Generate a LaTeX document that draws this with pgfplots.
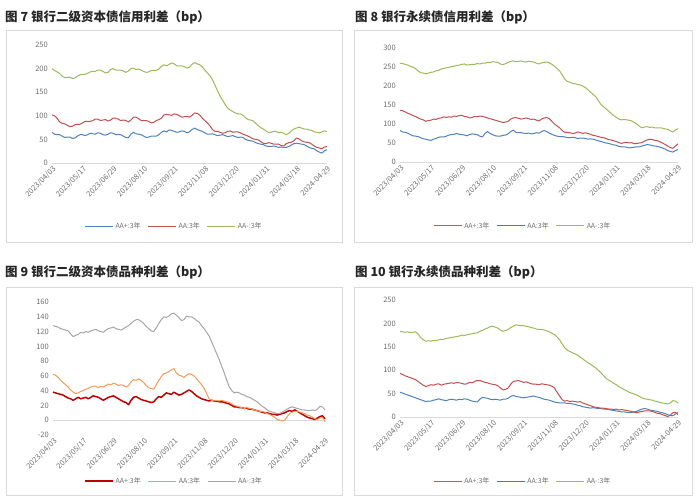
\documentclass[border=0pt]{standalone}
\usepackage{pgfplots}
\pgfplotsset{compat=1.18}
\usepackage{pgfplotstable}
\usepackage{fontspec}
\setmainfont{Noto Sans CJK SC}
\definecolor{cblue}{HTML}{4F81BD}
\definecolor{cred}{HTML}{C0504D}
\definecolor{cgreen}{HTML}{9BBB59}
\definecolor{cdred}{HTML}{C00000}
\definecolor{corange}{HTML}{F29A5C}
\definecolor{cgray}{HTML}{A5A5A5}
\definecolor{labelgray}{HTML}{6E6E6E}
\definecolor{framegray}{HTML}{D9D9D9}
\definecolor{zerogray}{HTML}{D9D9D9}

\pgfplotstableread{
x p a m
0 65 102 200
2.5 61 100 196
5 60 95 193
7.5 60 87 190
10 57 84 184
12.5 54 83 181
15 55 80 181
17.5 55 77 182
20 52 78 179
22.5 53 81 180
25 57 82 184
27.5 60 82 187
30 60 85 188
32.5 58 88 188
35 60 88 190
37.5 63 88 193
40 62 90 194
42.5 61 93 194
45 64 93 197
47.5 63 90 197
50 60 91 194
52.5 59 92 191
55 61 89 192
57.5 64 91 198
60 63 95 200
62.5 60 95 197
65 60 93 197
67.5 60 90 197
70 57 91 195
72.5 54 90 192
75 54 87 195
77.5 61 91 200
80 65 97 201
82.5 62 97 198
85 61 94 199
87.5 60 90 197
90 57 90 194
92.5 54 90 192
95 55 88 193
97.5 57 85 196
100 57 86 196
102.5 57 90 196
105 60 92 199
107.5 65 95 205
110 68 102 208
112.5 66 103 206
115 70 102 209
117.5 69 101 212
120 67 104 210
122.5 65 103 206
125 66 100 206
127.5 68 97 206
130 67 98 204
132.5 64 99 201
135 66 97 203
137.5 71 101 209
140 74 106 213
142.5 71 105 210
145 69 102 208
147.5 67 95 204
150 64 90 197
152.5 61 85 191
155 61 79 185
157.5 62 71 177
160 60 67 165
162.5 58 67 153
165 59 65 142
167.5 60 63 133
170 58 64 124
172.5 56 67 116
175 57 68 112
177.5 58 65 109
180 56 66 106
182.5 54 66 104
185 55 64 104
187.5 54 61 101
190 50 59 96
192.5 48 57 92
195 47 54 91
197.5 46 51 89
200 43 50 84
202.5 41 49 79
205 40 45 75
207.5 39 42 72
210 36 41 68
212.5 35 43 65
215 35 42 65
217.5 36 40 67
220 35 40 67
222.5 33 40 64
225 34 37 65
227.5 33 36 63
230 33 41 60
232.5 35 43 63
235 38 44 68
237.5 41 47 72
240 42 53 74
242.5 41 51 76
245 40 47 74
247.5 39 45 72
250 36 44 72
252.5 33 43 70
255 31 40 69
257.5 30 36 66
260 26 33 65
262.5 23 32 64
265 21 30 66
267.5 26 34 68
270 28 35 67
}\dataA

\pgfplotstableread{
x p a m
0 83 136 260
2.5 79 135 259
5 78 132 257
7.5 76 128 255
10 72 126 252
12.5 69 122 250
15 68 120 246
17.5 67 116 240
20 64 113 235
22.5 61 111 234
25 60 107 232
27.5 58 109 234
30 57 110 236
32.5 60 113 237
35 62 112 240
37.5 65 115 241
40 66 116 245
42.5 66 119 246
45 68 117 248
47.5 71 119 249
50 72 118 251
52.5 73 121 252
55 75 120 254
57.5 73 122 255
60 72 123 257
62.5 71 120 258
65 69 119 255
67.5 72 116 256
70 74 117 257
72.5 73 120 257
75 72 119 259
77.5 68 121 258
80 66 120 260
82.5 75 118 260
85 80 116 262
87.5 75 114 262
90 72 112 264
92.5 69 110 263
95 68 108 262
97.5 68 106 258
100 70 104 256
102.5 71 105 259
105 74 107 262
107.5 80 113 265
110 84 116 266
112.5 78 117 264
115 77 115 265
117.5 77 113 266
120 76 114 264
122.5 75 116 263
125 76 114 265
127.5 74 112 264
130 75 113 263
132.5 77 110 260
135 76 108 258
137.5 80 113 261
140 83 116 262
142.5 80 117 263
145 76 114 261
147.5 73 107 257
150 70 100 252
152.5 68 95 246
155 67 90 240
157.5 67 83 229
160 66 78 218
162.5 64 78 212
165 64 77 210
167.5 65 75 207
170 64 76 206
172.5 62 79 204
175 63 78 203
177.5 63 75 200
180 62 77 196
182.5 60 75 190
185 61 73 184
187.5 60 70 178
190 58 69 172
192.5 56 67 162
195 54 65 152
197.5 52 64 146
200 50 62 140
202.5 49 59 134
205 47 58 128
207.5 45 56 122
210 44 54 118
212.5 41 51 113
215 40 49 111
217.5 40 51 112
220 39 52 111
222.5 37 50 110
225 38 51 108
227.5 39 48 104
230 40 49 100
232.5 40 50 94
235 42 51 90
237.5 44 55 92
240 46 58 93
242.5 45 60 91
245 43 59 92
247.5 42 57 90
250 41 56 90
252.5 39 53 90
255 37 50 89
257.5 34 46 87
260 30 42 86
262.5 28 38 82
265 26 36 79
267.5 30 42 84
270 33 48 88
}\dataB

\pgfplotstableread{
x p a m
0 38 62 128
2.5 37 61 127
5 36 58 126
7.5 35 54 124
10 34 51 123
12.5 32 48 122
15 30 45 121
17.5 29 41 117
20 27 38 113
22.5 29 36 115
25 31 37 116
27.5 29 39 119
30 30 40 118
32.5 31 42 120
35 29 43 119
37.5 31 45 121
40 33 46 122
42.5 32 46 123
45 31 44 121
47.5 29 46 120
50 27 45 119
52.5 29 47 122
55 31 49 124
57.5 32 48 125
60 33 50 126
62.5 31 49 124
65 29 47 123
67.5 27 48 122
70 25 47 124
72.5 24 45 126
75 21 47 128
77.5 27 52 131
80 31 55 134
82.5 32 54 136
85 30 56 136
87.5 28 54 134
90 27 51 131
92.5 26 47 127
95 25 44 124
97.5 24 43 121
100 25 42 120
102.5 29 48 125
105 32 54 131
107.5 31 59 136
110 34 63 140
112.5 37 64 139
115 36 66 141
117.5 35 68 144
120 38 70 145
122.5 36 64 142
125 34 61 139
127.5 35 60 135
130 37 58 136
132.5 39 61 141
135 41 63 140
137.5 39 62 140
140 36 60 138
142.5 33 56 135
145 31 52 133
147.5 29 48 128
150 28 43 124
152.5 27 36 119
155 26 29 114
157.5 27 27 106
160 26 26 98
162.5 26 27 90
165 25 26 82
167.5 25 27 73
170 24 26 64
172.5 23 25 54
175 22 24 45
177.5 20 22 40
180 18 20 37
182.5 18 19 38
185 17 18 37
187.5 17 17 35
190 16 16 34
192.5 16 17 32
195 15 16 31
197.5 15 15 29
200 14 14 27
202.5 13 13 25
205 12 12 22
207.5 11 12 19
210 10 11 17
212.5 10 9 14
215 9 8 12
217.5 8 6 11
220 8 4 10
222.5 7 1 9
225 8 0 9
227.5 9 -1 11
230 10 0 13
232.5 12 5 15
235 13 9 17
237.5 12 11 18
240 14 12 17
242.5 12 12 16
245 10 11 15
247.5 8 10 14
250 6 9 14
252.5 4 7 13
255 3 6 13
257.5 2 4 14
260 1 2 13
262.5 3 1 15
265 5 3 19
267.5 6 4 18
270 2 -2 14
}\dataC

\pgfplotstableread{
x p a m
0 53 93 183
2.5 51 91 182
5 49 88 181
7.5 47 86 182
10 45 84 180
12.5 43 82 181
15 41 80 182
17.5 39 76 178
20 37 72 170
22.5 35 68 165
25 33 65 162
27.5 34 67 163
30 34 69 162
32.5 36 68 164
35 37 70 163
37.5 39 71 165
40 37 68 166
42.5 36 70 166
45 35 71 168
47.5 37 72 169
50 38 73 170
52.5 37 72 171
55 36 74 172
57.5 38 73 173
60 37 72 175
62.5 39 70 174
65 38 71 176
67.5 36 74 177
70 34 73 178
72.5 33 76 179
75 32 78 180
77.5 38 78 183
80 42 76 185
82.5 41 74 188
85 40 73 190
87.5 38 71 193
90 37 70 194
92.5 38 69 192
95 37 67 190
97.5 36 62 186
100 38 58 183
102.5 38 59 185
105 40 62 187
107.5 44 70 191
110 46 76 194
112.5 44 77 197
115 43 78 196
117.5 42 76 195
120 41 74 195
122.5 42 75 194
125 43 73 193
127.5 44 71 191
130 45 70 190
132.5 43 70 188
135 42 69 187
137.5 40 71 187
140 38 70 186
142.5 37 69 184
145 36 68 182
147.5 34 66 179
150 32 62 176
152.5 31 53 171
155 30 45 165
157.5 30 37 156
160 30 34 148
162.5 29 35 143
165 29 33 140
167.5 28 34 137
170 27 33 135
172.5 25 32 132
175 24 33 128
177.5 22 30 124
180 21 28 120
182.5 20 26 116
185 19 24 113
187.5 20 22 109
190 19 21 105
192.5 18 20 100
195 18 19 95
197.5 17 19 89
200 17 18 83
202.5 16 17 79
205 15 17 76
207.5 14 16 72
210 13 17 69
212.5 12 15 65
215 11 16 62
217.5 11 15 59
220 10 14 56
222.5 10 13 53
225 10 12 51
227.5 11 10 49
230 12 9 47
232.5 15 11 44
235 17 12 41
237.5 18 13 39
240 17 13 38
242.5 15 13 37
245 14 12 36
247.5 13 10 34
250 12 8 33
252.5 10 7 31
255 9 5 30
257.5 7 3 29
260 5 1 28
262.5 3 4 30
265 3 9 35
267.5 6 10 34
270 10 5 30
}\dataD

\pgfplotsset{
  panel/.style={
    scale only axis,
    xmin=0, xmax=270,
    axis x line*=bottom, axis y line*=left,
    axis line style={draw=none},
    major tick length=0pt,
    xtick={0,30,...,270},
    xticklabels={2023/04/03,2023/05/17,2023/06/29,2023/08/10,2023/09/21,2023/11/08,2023/12/20,2024/01/31,2024/03/18,2024-04-29},
    x tick label style={rotate=45, anchor=north east, font=\fontsize{7.5}{8}\selectfont, text=labelgray, inner sep=1.5pt},
    y tick label style={font=\fontsize{7.5}{8}\selectfont, text=labelgray, inner sep=1pt, xshift=-3pt},
    /pgf/number format/assume math mode=true,
    legend columns=3,
    legend cell align=left,
    legend image code/.code={\draw[#1] (0pt,0pt) -- (28pt,0pt);},
    legend style={draw=none, fill=none, font=\fontsize{7}{8}\selectfont, text=labelgray,
      /tikz/every even column/.append style={column sep=5pt}},
    every axis plot/.append style={line width=1pt, line join=round},
    clip=false,
  }
}

\begin{document}
\begin{tikzpicture}
\path (0pt,0pt) rectangle (700pt,-503pt);
% frames
\draw[framegray, line width=0.8pt] (6pt,-30pt) rectangle (342pt,-242pt);
\draw[framegray, line width=0.8pt] (354pt,-30pt) rectangle (692pt,-242pt);
\draw[framegray, line width=0.8pt] (6pt,-287pt) rectangle (342pt,-495pt);
\draw[framegray, line width=0.8pt] (354pt,-287pt) rectangle (692pt,-495pt);
% titles
\node[anchor=west, inner sep=0pt, font=\fontsize{12.5}{13}\selectfont\bfseries, text=black!85] at (5pt,-17pt) {图 7 银行二级资本债信用利差（bp）};
\node[anchor=west, inner sep=0pt, font=\fontsize{12.5}{13}\selectfont\bfseries, text=black!85] at (355pt,-17pt) {图 8 银行永续债信用利差（bp）};
\node[anchor=west, inner sep=0pt, font=\fontsize{12.5}{13}\selectfont\bfseries, text=black!85] at (5pt,-272pt) {图 9 银行二级资本债品种利差（bp）};
\node[anchor=west, inner sep=0pt, font=\fontsize{12.5}{13}\selectfont\bfseries, text=black!85] at (355pt,-272pt) {图 10 银行永续债品种利差（bp）};

% Panel 1
\begin{axis}[panel, at={(52pt,-163pt)}, anchor=south west, width=275pt, height=118pt,
  ymin=0, ymax=250, ytick={0,50,...,250},
  legend style={at={(0.444,-0.534)}, anchor=center}]
\draw[zerogray, line width=1pt] (axis cs:0,0) -- (axis cs:270,0);
\addplot[cblue] table[x=x,y=p] {\dataA}; \addlegendentry{AA+:3年}
\addplot[cred] table[x=x,y=a] {\dataA}; \addlegendentry{AA:3年}
\addplot[cgreen] table[x=x,y=m] {\dataA}; \addlegendentry{AA-:3年}
\end{axis}

% Panel 2
\begin{axis}[panel, at={(400pt,-162pt)}, anchor=south west, width=278pt, height=114pt,
  ymin=0, ymax=300, ytick={0,50,...,300},
  legend style={at={(0.442,-0.561)}, anchor=center}]
\draw[zerogray, line width=1pt] (axis cs:0,0) -- (axis cs:270,0);
\addplot[cblue] table[x=x,y=p] {\dataB}; \addlegendentry{AA+:3年}
\addplot[cred] table[x=x,y=a] {\dataB}; \addlegendentry{AA:3年}
\addplot[cgreen] table[x=x,y=m] {\dataB}; \addlegendentry{AA-:3年}
\end{axis}

% Panel 3
\begin{axis}[panel, at={(53pt,-435pt)}, anchor=south west, width=272pt, height=133pt,
  ymin=-20, ymax=160, ytick={-20,0,20,...,160},
  legend style={at={(0.445,-0.346)}, anchor=center}]
\draw[zerogray, line width=1pt] (axis cs:0,0) -- (axis cs:270,0);
\addplot[cdred, line width=1.5pt] table[x=x,y=p] {\dataC}; \addlegendentry{AA+:3年}
\addplot[corange] table[x=x,y=a] {\dataC}; \addlegendentry{AA:3年}
\addplot[cgray] table[x=x,y=m] {\dataC}; \addlegendentry{AA-:3年}
\end{axis}

% Panel 4
\begin{axis}[panel, at={(400pt,-417pt)}, anchor=south west, width=278pt, height=117pt,
  ymin=0, ymax=250, ytick={0,50,...,250},
  legend style={at={(0.442,-0.547)}, anchor=center}]
\draw[zerogray, line width=1pt] (axis cs:0,0) -- (axis cs:270,0);
\addplot[cblue] table[x=x,y=p] {\dataD}; \addlegendentry{AA+:3年}
\addplot[cred] table[x=x,y=a] {\dataD}; \addlegendentry{AA:3年}
\addplot[cgreen] table[x=x,y=m] {\dataD}; \addlegendentry{AA-:3年}
\end{axis}
\end{tikzpicture}
\end{document}
